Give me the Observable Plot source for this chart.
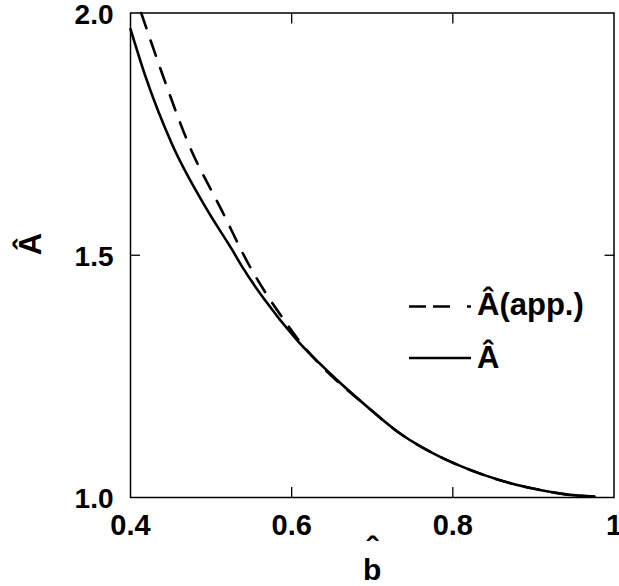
<!DOCTYPE html>
<html>
<head>
<meta charset="utf-8">
<script src="https://cdn.jsdelivr.net/npm/d3@7"></script>
<script src="https://cdn.jsdelivr.net/npm/@observablehq/plot@0.6"></script>
<style>
  html, body { margin: 0; padding: 0; background: white; }
</style>
</head>
<body>
<div id="chart"></div>
<script>
// Exact curve  Â(b̂)
const bSolid = [0.400, 0.419, 0.4513, 0.4957, 0.5255, 0.5391, 0.5656, 0.6071, 0.6484, 0.6898, 0.7354, 0.7768, 0.8183, 0.8596, 0.9010, 0.9425, 0.9755];
const aSolid = [1.967, 1.867, 1.730, 1.592, 1.513, 1.475, 1.410, 1.324, 1.255, 1.193, 1.131, 1.090, 1.059, 1.035, 1.018, 1.006, 1.002];
// Approximate curve  Â(app.)
const bApp = [0.4133, 0.4410, 0.4720, 0.5134, 0.5487, 0.5686, 0.5925, 0.6091, 0.6401, 0.6898, 0.7354, 0.7768, 0.8183, 0.8596, 0.9010, 0.9425, 0.9755];
const aApp = [2.000, 1.867, 1.730, 1.592, 1.475, 1.420, 1.362, 1.324, 1.266, 1.193, 1.131, 1.090, 1.059, 1.035, 1.018, 1.006, 1.002];

const xTicks = [0.4, 0.6, 0.8, 1];
const yTicks = [1.0, 1.5, 2.0];
const xInnerTicks = [0.6, 0.8];
const yInnerTicks = [1.5];
const xLabel = "b";
const yLabel = "Â";
const legendLabels = ["Â(app.)", "Â"];

const solid = bSolid.map((b, i) => ({b, A: aSolid[i]}));
const app = bApp.map((b, i) => ({b, A: aApp[i]}));

const FONT = "'Liberation Sans', Arial, Helvetica, sans-serif";
const W = 619, H = 586;
const mL = 130, mR = 5.5, mT = 12.5, mB = 89;

const svg = Plot.plot({
  width: W, height: H,
  marginLeft: mL, marginRight: mR, marginTop: mT, marginBottom: mB,
  style: {fontFamily: FONT, background: "white", color: "black"},
  x: {domain: [0.4, 1]},
  y: {domain: [1, 2]},
  marks: [
    Plot.axisX({ticks: xTicks, anchor: "bottom", tickSize: 0, tickPadding: 17, fontSize: 29, fontWeight: "bold",
      tickFormat: d => d === 1 ? "1" : d3.format(".1f")(d), label: null}),
    Plot.axisX({ticks: xInnerTicks, anchor: "bottom", tickSize: 10, dy: -10, tickFormat: () => "", label: null, strokeWidth: 1.3}),
    Plot.axisX({ticks: xInnerTicks, anchor: "top", tickSize: 10, dy: 10, tickFormat: () => "", label: null, strokeWidth: 1.3}),
    Plot.axisY({ticks: yTicks, anchor: "left", tickSize: 0, tickPadding: 17, fontSize: 28, fontWeight: "bold", dy: 2,
      tickFormat: d3.format(".1f"), label: null}),
    Plot.axisY({ticks: yInnerTicks, anchor: "left", tickSize: 10, dx: 10, tickFormat: () => "", label: null, strokeWidth: 1.3}),
    Plot.axisY({ticks: yInnerTicks, anchor: "right", tickSize: 10, dx: -10, tickFormat: () => "", label: null, strokeWidth: 1.3}),
    Plot.frame({stroke: "black", strokeWidth: 1.5}),
    Plot.line(app, {x: "b", y: "A", stroke: "black", strokeWidth: 2.6, strokeDasharray: "16,13", curve: "monotone-x"}),
    Plot.line(solid, {x: "b", y: "A", stroke: "black", strokeWidth: 2.6, curve: "monotone-x"}),
    Plot.text([xLabel], {frameAnchor: "bottom", dy: 82, fontSize: 30, fontWeight: "bold", lineAnchor: "bottom"}),
    Plot.text(["ˆ"], {frameAnchor: "bottom", dy: 62, fontSize: 34, fontWeight: "bold", lineAnchor: "bottom"}),
    Plot.text([yLabel], {frameAnchor: "left", dx: -90, rotate: -90, fontSize: 31, fontWeight: "bold", lineAnchor: "bottom"})
  ]
});

// Legend (inside the frame)
const s = d3.select(svg);
const lg = s.append("g").attr("font-family", FONT).attr("font-weight", "bold").attr("font-size", 31)
  .attr("text-anchor", "start");
const legendY = [306.5, 358];
const textY = [315, 368];
lg.append("line").attr("x1", 409).attr("x2", 471).attr("y1", legendY[0]).attr("y2", legendY[0])
  .attr("stroke", "black").attr("stroke-width", 2.4).attr("stroke-dasharray", "17,7,17,17,4");
lg.append("line").attr("x1", 409).attr("x2", 471).attr("y1", legendY[1]).attr("y2", legendY[1])
  .attr("stroke", "black").attr("stroke-width", 2.4);
legendLabels.forEach((t, i) => {
  lg.append("text").attr("x", 477).attr("y", textY[i]).attr("fill", "black").attr("text-anchor", "start").text(t);
});

document.getElementById("chart").appendChild(svg);
</script>
</body>
</html>
